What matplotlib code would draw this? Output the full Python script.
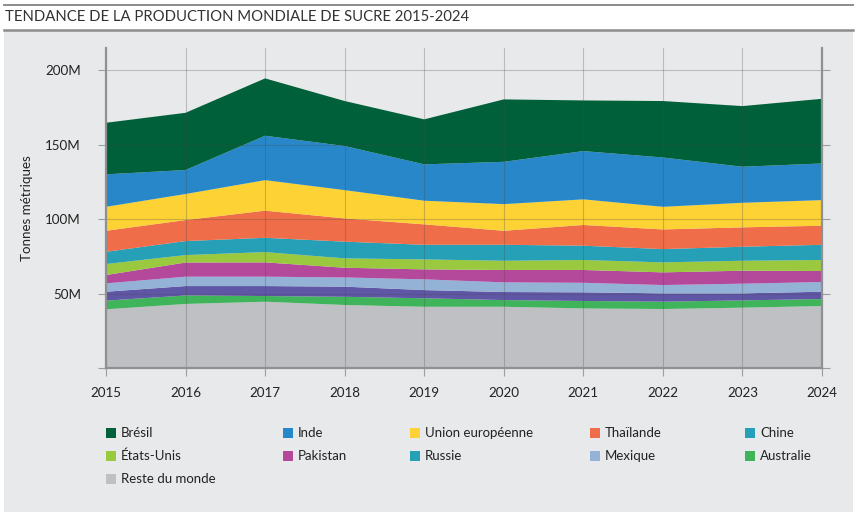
import matplotlib
matplotlib.use("Agg")
import matplotlib.pyplot as plt
from matplotlib.patches import Rectangle
from matplotlib.lines import Line2D
from matplotlib.ticker import FuncFormatter

# ---------------- données (millions de tonnes) ----------------
YEARS = [2015, 2016, 2017, 2018, 2019, 2020, 2021, 2022, 2023, 2024]
# empilement du bas vers le haut
RESTE = [39.4, 43.0, 44.5, 42.3, 41.1, 41.1, 40.0, 39.6, 40.5, 41.6]
AUSTRALIE = [5.8, 5.7, 3.8, 5.5, 5.7, 4.5, 5.0, 4.9, 4.9, 4.7]
RUSSIE = [6.0, 6.3, 6.7, 6.8, 5.5, 5.4, 5.8, 5.6, 4.7, 4.9]
MEXIQUE = [5.6, 6.3, 6.3, 6.2, 7.2, 6.5, 6.4, 5.6, 6.5, 6.5]
PAKISTAN = [5.6, 9.5, 9.6, 6.5, 6.7, 8.3, 8.6, 8.5, 8.7, 7.4]
ETATS_UNIS = [7.4, 5.0, 6.9, 6.3, 6.7, 6.2, 6.7, 6.7, 6.7, 7.4]
CHINE = [8.2, 9.4, 9.6, 11.2, 9.8, 10.7, 9.6, 8.9, 9.4, 10.2]
THAILANDE = [14.1, 14.1, 18.2, 15.6, 13.7, 9.4, 13.9, 13.2, 13.0, 12.8]
UE = [16.1, 17.5, 20.5, 19.0, 15.9, 17.9, 17.2, 15.2, 16.5, 17.2]
INDE = [21.8, 16.1, 29.8, 29.6, 24.4, 28.4, 32.4, 33.1, 24.2, 24.6]
BRESIL = [34.6, 38.4, 38.5, 30.2, 30.2, 41.9, 34.0, 37.9, 40.7, 43.4]

STACK = [RESTE, AUSTRALIE, RUSSIE, MEXIQUE, PAKISTAN, ETATS_UNIS,
         CHINE, THAILANDE, UE, INDE, BRESIL]
STACK_COLORS = ["#bfc0c4", "#3fb45a", "#5f56a6", "#94b2d6", "#b4489b",
                "#9ac93f", "#26a0b6", "#ef6d48", "#fdd235", "#2787c9",
                "#00603a"]

# légende (ordre et couleurs tels que dans l'original)
LEG_LABELS = ["Brésil", "Inde", "Union européenne", "Thaïlande", "Chine",
              "États-Unis", "Pakistan", "Russie", "Mexique", "Australie",
              "Reste du monde"]
LEG_COLORS = ["#00603a", "#2787c9", "#fdd235", "#ef6d48", "#26a0b6",
              "#9ac93f", "#b4489b", "#26a0b6", "#94b2d6", "#3fb45a",
              "#bfc0c4"]

PANEL = "#e8e9ea"
RULE = "#8c8c8c"
GRIDC = "#9d9ea0"
SPINE = "#8f9092"
INK = "#222222"

plt.rcParams["font.family"] = ["Lato", "DejaVu Sans"]

W, H = 860, 515
fig = plt.figure(figsize=(W / 100, H / 100), dpi=100)
fig.patch.set_facecolor("white")


def fx(px):
    return px / W


def fy(py):
    return 1 - py / H


# panneau gris + filets
fig.patches.append(Rectangle((fx(4), fy(512)), fx(849), 482 / H,
                             transform=fig.transFigure, facecolor=PANEL,
                             edgecolor="none", zorder=0))
fig.add_artist(Line2D([fx(4), fx(853)], [fy(5), fy(5)], color=RULE, lw=1.4))
fig.add_artist(Line2D([fx(4), fx(853)], [fy(30), fy(30)], color=RULE, lw=1.8))
fig.text(fx(5), fy(17), "TENDANCE DE LA PRODUCTION MONDIALE DE SUCRE 2015-2024",
         fontsize=10.7, color="#333333", va="center", ha="left")

# ---------------- graphique ----------------
ax = fig.add_axes([fx(106), fy(368), fx(716), 320 / H])
ax.set_zorder(5)
ax.set_facecolor(PANEL)
ax.stackplot(YEARS, *STACK, colors=STACK_COLORS, linewidth=0, zorder=1)

ax.set_xlim(2015, 2024)
ax.set_ylim(0, 214.8)
ax.set_xticks(YEARS)
ax.set_yticks([0, 50, 100, 150, 200])
ax.yaxis.set_major_formatter(FuncFormatter(lambda v, p: "" if v == 0 else f"{v:.0f}M"))

ax.grid(True, color="#4a4a4a", alpha=0.28, lw=0.8, zorder=3)
ax.set_axisbelow(False)
ax.spines["top"].set_visible(False)
for side in ("left", "right", "bottom"):
    ax.spines[side].set_color(SPINE)
    ax.spines[side].set_linewidth(1.6)
    ax.spines[side].set_zorder(4)

ax.tick_params(axis="x", direction="out", length=6, width=0.8, color=GRIDC,
               labelsize=9.6, labelcolor=INK, pad=8)
ax.tick_params(axis="y", direction="out", length=6, width=0.8, color=GRIDC,
               labelsize=9.6, labelcolor=INK, pad=12, right=True)
ax.set_ylabel("Tonnes métriques", fontsize=9.6, color=INK)
ax.yaxis.set_label_coords((33 - 106) / 716, 0.5)

# ---------------- légende ----------------
COL_X = [106, 283, 410, 590, 745]
ROW_Y = [433, 456, 479]
for i, (lab, col) in enumerate(zip(LEG_LABELS, LEG_COLORS)):
    r, c = divmod(i, 5)
    x0, y0 = COL_X[c], ROW_Y[r]
    fig.patches.append(Rectangle((fx(x0), fy(y0 + 5)), fx(10), 10 / H,
                                 transform=fig.transFigure, facecolor=col,
                                 edgecolor="none", zorder=2))
    fig.text(fx(x0 + 15), fy(y0), lab, fontsize=9.5, color=INK,
             va="center", ha="left")

fig.savefig("out.png", dpi=100, facecolor="white")
